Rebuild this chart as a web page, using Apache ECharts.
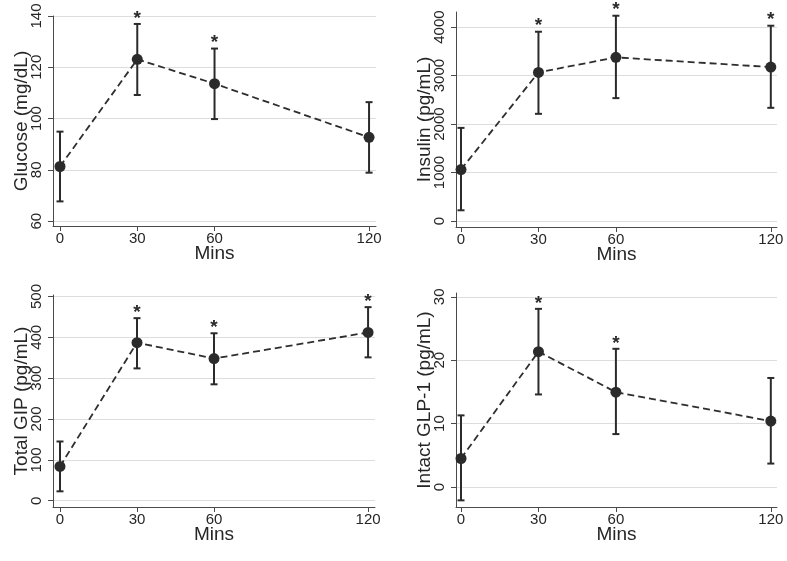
<!DOCTYPE html>
<html>
<head>
<meta charset="utf-8">
<script src="https://cdn.jsdelivr.net/npm/echarts@6/dist/echarts.min.js"></script>
<style>html,body{margin:0;padding:0;background:#fff}#c{width:787px;height:561px}</style>
</head>
<body>
<div id="c"></div>
<script>
const mins = [0, 30, 60, 120];
const minsTicks = [0, 30, 60, 120];

const glucoseMean = [81.3, 123.1, 113.6, 92.7];
const glucoseLow = [67.7, 109.2, 99.8, 78.9];
const glucoseHigh = [94.9, 136.9, 127.3, 106.4];
const glucoseSig = [0, 1, 1, 0];
const glucoseTicks = [60, 80, 100, 120, 140];

const insulinMean = [1062, 3066, 3376, 3175];
const insulinLow = [221, 2211, 2535, 2335];
const insulinHigh = [1921, 3905, 4235, 4029];
const insulinSig = [0, 1, 1, 1];
const insulinTicks = [0, 1000, 2000, 3000, 4000];

const gipMean = [84, 387, 348, 412];
const gipLow = [23, 324, 285, 351];
const gipHigh = [145, 447, 410, 474];
const gipSig = [0, 1, 1, 1];
const gipTicks = [0, 100, 200, 300, 400, 500];

const glpMean = [4.5, 21.35, 14.96, 10.4];
const glpLow = [-2.1, 14.6, 8.35, 3.7];
const glpHigh = [11.3, 28.1, 21.8, 17.2];
const glpSig = [0, 1, 1, 0];
const glpTicks = [0, 10, 20, 30];

const panels = [
  {name: 'Glucose (mg/dL)', mean: glucoseMean, low: glucoseLow, high: glucoseHigh, sig: glucoseSig, ticks: glucoseTicks,
   grid: {left: 53, top: 16, width: 323, height: 210}, ymin: 58.1, ymax: 140, xmin: -2.72, xmax: 122.7},
  {name: 'Insulin (pg/mL)', mean: insulinMean, low: insulinLow, high: insulinHigh, sig: insulinSig, ticks: insulinTicks,
   grid: {left: 456, top: 12, width: 321, height: 215}, ymin: -124, ymax: 4312, xmin: -1.94, xmax: 122.4},
  {name: 'Total GIP (pg/mL)', mean: gipMean, low: gipLow, high: gipHigh, sig: gipSig, ticks: gipTicks,
   grid: {left: 53, top: 295, width: 322, height: 212}, ymin: -15.4, ymax: 503.7, xmin: -2.72, xmax: 122.7},
  {name: 'Intact GLP-1 (pg/mL)', mean: glpMean, low: glpLow, high: glpHigh, sig: glpSig, ticks: glpTicks,
   grid: {left: 456, top: 293, width: 321, height: 214}, ymin: -3.15, ymax: 30.6, xmin: -1.94, xmax: 122.4}
];

const FONT = 'Liberation Sans, Arial, sans-serif';
const TXT = '#262626';
const AX = '#4a4a4a';
const MARK = '#2b2b2b';

const option = {
  backgroundColor: '#fff',
  animation: false,
  textStyle: {fontFamily: FONT},
  grid: [], xAxis: [], yAxis: [], series: []
};

panels.forEach((p, i) => {
  option.grid.push(Object.assign({containLabel: false}, p.grid));
  option.xAxis.push({
    type: 'value', gridIndex: i, min: p.xmin, max: p.xmax,
    name: 'Mins', nameLocation: 'middle', nameGap: 18, nameMoveOverlap: false,
    nameTextStyle: {fontSize: 19, color: TXT, fontFamily: FONT},
    axisLine: {show: true, onZero: false, lineStyle: {color: AX, width: 1}},
    axisTick: {show: true, length: 5, customValues: minsTicks, lineStyle: {color: AX}},
    axisLabel: {show: true, customValues: minsTicks, fontSize: 15, margin: 5, color: TXT, fontFamily: FONT,
                formatter: v => String(v)},
    splitLine: {show: false}
  });
  option.yAxis.push({
    type: 'value', gridIndex: i, min: p.ymin, max: p.ymax,
    name: p.name, nameLocation: 'middle', nameGap: 22, nameMoveOverlap: false,
    nameTextStyle: {fontSize: 19, color: TXT, fontFamily: FONT},
    axisLine: {show: true, onZero: false, lineStyle: {color: AX, width: 1}},
    axisTick: {show: true, length: 5, customValues: p.ticks, lineStyle: {color: AX}},
    axisLabel: {show: true, customValues: p.ticks, rotate: 90, fontSize: 15, margin: 9, color: TXT, fontFamily: FONT,
                formatter: v => String(v)},
    splitLine: {show: true, lineStyle: {color: '#dddddd', width: 1}}
  });
  option.series.push({
    type: 'line', xAxisIndex: i, yAxisIndex: i,
    data: mins.map((m, k) => [m, p.mean[k]]),
    symbol: 'circle', symbolSize: 11,
    itemStyle: {color: MARK},
    lineStyle: {color: '#2e2e2e', width: 1.8, type: [7, 4]},
    z: 3
  });
  option.series.push({
    type: 'custom', xAxisIndex: i, yAxisIndex: i,
    data: mins.map((m, k) => [m, p.low[k], p.high[k], p.sig[k]]),
    encode: {x: 0, y: [1, 2]},
    z: 4,
    renderItem: function (params, api) {
      const x = api.value(0);
      const lo = api.coord([x, api.value(1)]);
      const hi = api.coord([x, api.value(2)]);
      const cw = 3.5;
      const style = {stroke: MARK, lineWidth: 2};
      const children = [
        {type: 'line', shape: {x1: lo[0], y1: lo[1], x2: hi[0], y2: hi[1]}, style: style},
        {type: 'line', shape: {x1: hi[0] - cw, y1: hi[1], x2: hi[0] + cw, y2: hi[1]}, style: style},
        {type: 'line', shape: {x1: lo[0] - cw, y1: lo[1], x2: lo[0] + cw, y2: lo[1]}, style: style}
      ];
      if (api.value(3)) {
        children.push({
          type: 'text',
          style: {text: '*', x: hi[0], y: hi[1] + 4, align: 'center', verticalAlign: 'bottom',
                  fill: MARK, font: 'bold 19px ' + FONT}
        });
      }
      return {type: 'group', children: children};
    }
  });
});

const chart = echarts.init(document.getElementById('c'), null, {renderer: 'canvas'});
chart.setOption(option);
</script>
</body>
</html>
